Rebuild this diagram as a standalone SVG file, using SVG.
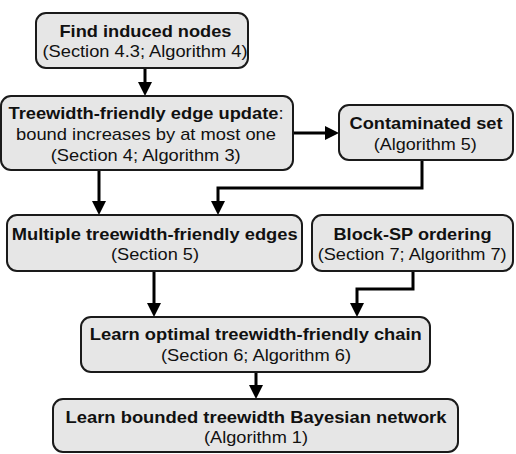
<svg xmlns="http://www.w3.org/2000/svg" width="516" height="454" viewBox="0 0 516 454">
<style>
.box{fill:#e6e6e6;stroke:#1a1a1a;stroke-width:2}
.b{font-family:"Liberation Sans",Arial,sans-serif;font-weight:bold;font-size:17px;fill:#111}
.r{font-family:"Liberation Sans",Arial,sans-serif;font-size:17px;fill:#111}
.c{fill:none;stroke:#000;stroke-width:3}
</style>
<defs>
<marker id="ah" markerUnits="userSpaceOnUse" markerWidth="14" markerHeight="14" refX="6" refY="7" orient="auto">
<path d="M0,0 L14,7 L0,14 z" fill="#000"/>
</marker>
</defs>
<rect width="516" height="454" fill="#fff"/>
<g id="connectors">
<path class="c" d="M145,68 V88" marker-end="url(#ah)"/>
<path class="c" d="M293,133 H331" marker-end="url(#ah)"/>
<path class="c" d="M99,170 V207" marker-end="url(#ah)"/>
<path class="c" d="M422,160 V188 H218 V207" marker-end="url(#ah)"/>
<path class="c" d="M154,271 V309" marker-end="url(#ah)"/>
<path class="c" d="M413,271 V289 H357 V309" marker-end="url(#ah)"/>
<path class="c" d="M256,372 V391" marker-end="url(#ah)"/>
</g>
<g id="n1">
<rect class="box" x="36" y="13" width="212" height="55" rx="10"/>
<text class="b" x="145.5" y="37" text-anchor="middle" textLength="172" lengthAdjust="spacingAndGlyphs">Find induced nodes</text>
<text class="r" x="145" y="57" text-anchor="middle" textLength="205" lengthAdjust="spacingAndGlyphs">(Section 4.3; Algorithm 4)</text>
</g>
<g id="n2">
<rect class="box" x="1" y="96" width="292" height="74" rx="10"/>
<text x="146" y="118.5" text-anchor="middle" textLength="275" lengthAdjust="spacingAndGlyphs" class="r"><tspan class="b">Treewidth-friendly edge update</tspan>:</text>
<text class="r" x="146" y="139.5" text-anchor="middle" textLength="260" lengthAdjust="spacingAndGlyphs">bound increases by at most one</text>
<text class="r" x="145.7" y="160.5" text-anchor="middle" textLength="190" lengthAdjust="spacingAndGlyphs">(Section 4; Algorithm 3)</text>
</g>
<g id="n3">
<rect class="box" x="339" y="105" width="174" height="55" rx="10"/>
<text class="b" x="426" y="128.5" text-anchor="middle" textLength="153" lengthAdjust="spacingAndGlyphs">Contaminated set</text>
<text class="r" x="425.3" y="150" text-anchor="middle" textLength="103" lengthAdjust="spacingAndGlyphs">(Algorithm 5)</text>
</g>
<g id="n4">
<rect class="box" x="7" y="215" width="295" height="56" rx="10"/>
<text class="b" x="154.7" y="239.5" text-anchor="middle" textLength="286" lengthAdjust="spacingAndGlyphs">Multiple treewidth-friendly edges</text>
<text class="r" x="155" y="260" text-anchor="middle" textLength="88" lengthAdjust="spacingAndGlyphs">(Section 5)</text>
</g>
<g id="n5">
<rect class="box" x="312" y="215" width="201" height="56" rx="10"/>
<text class="b" x="412.5" y="239.5" text-anchor="middle" textLength="158" lengthAdjust="spacingAndGlyphs">Block-SP ordering</text>
<text class="r" x="412.2" y="260" text-anchor="middle" textLength="189" lengthAdjust="spacingAndGlyphs">(Section 7; Algorithm 7)</text>
</g>
<g id="n6">
<rect class="box" x="81" y="317" width="349" height="55" rx="10"/>
<text class="b" x="255.8" y="340" text-anchor="middle" textLength="332" lengthAdjust="spacingAndGlyphs">Learn optimal treewidth-friendly chain</text>
<text class="r" x="256" y="360.7" text-anchor="middle" textLength="190" lengthAdjust="spacingAndGlyphs">(Section 6; Algorithm 6)</text>
</g>
<g id="n7">
<rect class="box" x="53" y="399" width="405" height="53" rx="10"/>
<text class="b" x="256" y="422.7" text-anchor="middle" textLength="381" lengthAdjust="spacingAndGlyphs">Learn bounded treewidth Bayesian network</text>
<text class="r" x="256" y="443.3" text-anchor="middle" textLength="104" lengthAdjust="spacingAndGlyphs">(Algorithm 1)</text>
</g>
</svg>
